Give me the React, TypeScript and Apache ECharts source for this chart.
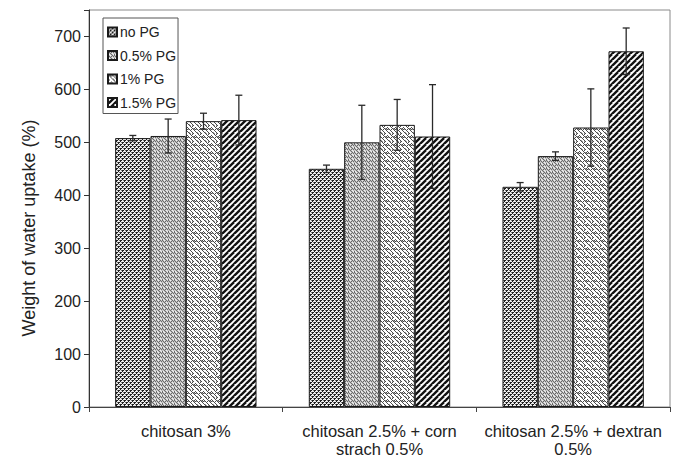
import React, { useEffect, useRef } from "react";
import * as echarts from "echarts";

const categories = [
  "chitosan 3%",
  "chitosan 2.5% + corn\nstrach 0.5%",
  "chitosan 2.5% + dextran\n0.5%",
];
const seriesNames = ["no PG", "0.5% PG", "1% PG", "1.5% PG"];
const valuesNoPG = [508, 450, 416];
const valuesPG05 = [512, 500, 474];
const valuesPG1 = [540, 533, 528];
const valuesPG15 = [542, 511, 672];
const errNoPG = [5, 7, 8];
const errPG05 = [32, 70, 8];
const errPG1 = [15, 48, 73];
const errPG15 = [47, 98, 44];
const yTicks = [0, 100, 200, 300, 400, 500, 600, 700];

const FONT = "'Liberation Sans', Arial, Helvetica, sans-serif";

function makeTile(w: number, h: number, draw: (ctx: CanvasRenderingContext2D) => void) {
  const c = document.createElement("canvas");
  c.width = w;
  c.height = h;
  const ctx = c.getContext("2d")!;
  draw(ctx);
  return c;
}

function px(ctx: CanvasRenderingContext2D, pts: number[][], color: string) {
  ctx.fillStyle = color;
  pts.forEach(([x, y]) => ctx.fillRect(x, y, 1, 1));
}

function buildPatterns() {
  // no PG: dense speckle dots
  const p1 = makeTile(4, 4, (ctx) => {
    ctx.fillStyle = "#eeeeee";
    ctx.fillRect(0, 0, 4, 4);
    px(ctx, [[0, 0], [1, 0], [0, 1], [2, 2], [3, 2], [2, 3]], "#1e1e1e");
    px(ctx, [[3, 0], [1, 2]], "#777777");
  });
  // 0.5% PG: grey zigzag
  const p2 = makeTile(6, 4, (ctx) => {
    ctx.fillStyle = "#c4c4c4";
    ctx.fillRect(0, 0, 6, 4);
    px(ctx, [[0, 0], [1, 1], [2, 2], [3, 1], [4, 0], [5, 1], [0, 3], [3, 3]], "#6a6a6a");
    px(ctx, [[2, 0], [5, 3], [1, 3], [4, 2]], "#f0f0f0");
  });
  // 1% PG: light lattice
  const p3 = makeTile(8, 8, (ctx) => {
    ctx.fillStyle = "#ffffff";
    ctx.fillRect(0, 0, 8, 8);
    px(
      ctx,
      [
        [0, 0], [1, 1], [2, 2], [3, 3], [4, 4], [5, 5], [6, 6], [7, 7],
        [4, 0], [3, 1], [2, 0], [6, 2], [7, 1], [0, 4], [1, 5], [5, 1],
        [7, 3], [0, 6], [3, 7],
      ],
      "#4a4a4a"
    );
    px(ctx, [[1, 0], [2, 1], [5, 4], [6, 5], [0, 5], [4, 1]], "#9a9a9a");
  });
  // 1.5% PG: wide diagonal stripes
  const p4 = makeTile(6, 6, (ctx) => {
    ctx.fillStyle = "#ffffff";
    ctx.fillRect(0, 0, 6, 6);
    ctx.strokeStyle = "#111111";
    ctx.lineWidth = 2.3;
    for (let k = -6; k <= 12; k += 6) {
      ctx.beginPath();
      ctx.moveTo(k - 6, 12);
      ctx.lineTo(k + 6, 0);
      ctx.stroke();
    }
  });
  return [p1, p2, p3, p4];
}

export default function App() {
  const ref = useRef<HTMLDivElement>(null);
  useEffect(() => {
    if (!ref.current) return;
    const chart = echarts.init(ref.current, null, { renderer: "svg" });
    const tiles = buildPatterns();
    const values = [valuesNoPG, valuesPG05, valuesPG1, valuesPG15];
    const errs = [errNoPG, errPG05, errPG1, errPG15];
    const gapFrac = 0.27;

    const barSeries = seriesNames.map((name, i) => ({
      name,
      type: "bar",
      data: values[i],
      barGap: "0%",
      barCategoryGap: "27%",
      itemStyle: {
        color: { image: tiles[i], repeat: "repeat" },
        borderColor: "#1a1a1a",
        borderWidth: 1,
      },
      emphasis: { disabled: true },
    }));

    const errData: number[][] = [];
    values.forEach((vals, si) =>
      vals.forEach((v, ci) => errData.push([ci, si, v, errs[si][ci]]))
    );

    const errorSeries = {
      type: "custom",
      name: "err",
      z: 10,
      data: errData,
      encode: { x: 0, y: 2 },
      renderItem: (params: any, api: any) => {
        const ci = api.value(0);
        const si = api.value(1);
        const v = api.value(2);
        const e = api.value(3);
        const band = api.size([1, 0])[0];
        const bw = (band * (1 - gapFrac)) / 4;
        const center = api.coord([ci, v]);
        const x = center[0] + (si - 1.5) * bw;
        const top = api.coord([ci, v + e])[1];
        const bot = api.coord([ci, v - e])[1];
        const cap = 3.5;
        const style = { stroke: "#2a2a2a", lineWidth: 1.3 };
        return {
          type: "group",
          children: [
            { type: "line", shape: { x1: x, y1: top, x2: x, y2: bot }, style },
            { type: "line", shape: { x1: x - cap, y1: top, x2: x + cap, y2: top }, style },
            { type: "line", shape: { x1: x - cap, y1: bot, x2: x + cap, y2: bot }, style },
          ],
        };
      },
    };

    chart.setOption({
      animation: false,
      textStyle: { fontFamily: FONT },
      grid: {
        left: 89,
        right: 10,
        top: 10,
        bottom: 51,
        show: true,
        borderColor: "#8a8a8a",
        borderWidth: 1,
        backgroundColor: "#ffffff",
      },
      legend: {
        data: seriesNames,
        orient: "vertical",
        left: 103,
        top: 18,
        backgroundColor: "#ffffff",
        borderColor: "#555555",
        borderWidth: 1,
        borderRadius: 0,
        padding: [7, 2, 4, 4],
        itemGap: 9.5,
        itemWidth: 9,
        itemHeight: 9,
        icon: "rect",
        selectedMode: false,
        textStyle: { fontFamily: FONT, fontSize: 14, color: "#222222", padding: [0, 0, 0, -2] },
      },
      xAxis: {
        type: "category",
        data: categories,
        axisLine: { lineStyle: { color: "#444444", width: 1 } },
        axisTick: { show: true, length: 5, lineStyle: { color: "#444444" } },
        axisLabel: {
          fontFamily: FONT,
          fontSize: 16.5,
          color: "#222222",
          margin: 15,
          lineHeight: 18,
          interval: 0,
        },
      },
      yAxis: {
        type: "value",
        min: 0,
        max: 750,
        interval: 100,
        splitLine: { show: false },
        axisLine: { show: true, lineStyle: { color: "#333333", width: 1 } },
        axisTick: { show: true, length: 5, lineStyle: { color: "#333333" } },
        axisLabel: {
          fontFamily: FONT,
          fontSize: 16,
          color: "#222222",
          margin: 8,
          formatter: (v: number) => (yTicks.includes(v) ? String(v) : ""),
        },
      },
      graphic: [
        {
          type: "text",
          x: 29,
          y: 228,
          rotation: Math.PI / 2,
          style: {
            text: "Weight of water uptake (%)",
            font: `18px ${FONT}`,
            fill: "#222222",
            align: "center",
            verticalAlign: "middle",
          },
        },
      ],
      series: [...barSeries, errorSeries],
    });
    return () => chart.dispose();
  }, []);
  return (
    <div
      ref={ref}
      style={{ position: "fixed", left: 0, top: 0, width: 680, height: 458, background: "#fff" }}
    />
  );
}
